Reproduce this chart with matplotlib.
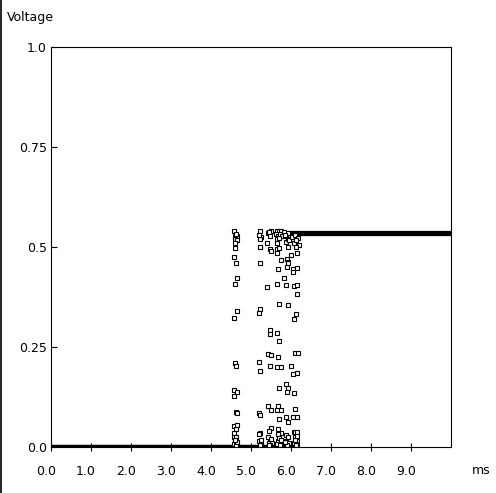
import matplotlib
matplotlib.use("Agg")
import matplotlib.pyplot as plt
import matplotlib.transforms as mtransforms
from matplotlib.lines import Line2D

# ---- data (ms, volts) ----
low_level = 0.0
low_span = [0.0, 6.2]
high_level = 0.535
high_span = [5.95, 10.0]

grpA_t = [4.583, 4.61, 4.65, 4.60, 4.638, 4.608, 4.608, 4.583, 4.633, 4.658, 4.608, 4.658, 4.583,
          4.608, 4.633, 4.583, 4.658, 4.583, 4.625, 4.65, 4.583, 4.658, 4.633, 4.583, 4.583, 4.633,
          4.60, 4.65, 4.575, 4.62, 4.64, 4.59, 4.62]
grpA_v = [0.540, 0.5275, 0.5275, 0.521, 0.5175, 0.511, 0.497, 0.474, 0.459, 0.422, 0.407, 0.339, 0.322,
          0.209, 0.202, 0.1425, 0.138, 0.128, 0.0875, 0.085, 0.053, 0.055, 0.044, 0.034, 0.024, 0.024,
          0.015, 0.01, 0.0075, 0.005, 0.012, 0.018, 0.532]

grpB_t = [5.233, 5.213, 5.25, 5.218, 5.233, 5.213, 5.233, 5.233, 5.208, 5.208, 5.233, 5.208, 5.233,
          5.233, 5.208, 5.20, 5.25, 5.22, 5.24, 5.21]
grpB_v = [0.540, 0.526, 0.525, 0.520, 0.501, 0.501, 0.459, 0.344, 0.334, 0.212, 0.19, 0.084, 0.08,
          0.034, 0.032, 0.015, 0.01, 0.006, 0.018, 0.531]

grpC_t = [5.408, 5.508, 5.425, 5.475, 5.408, 5.483, 5.50, 5.483, 5.483, 5.433, 5.508, 5.483, 5.433,
          5.508, 5.508, 5.458, 5.433, 5.483, 5.45, 5.525, 5.47, 5.44, 5.50, 5.46]
grpC_v = [0.399, 0.540, 0.535, 0.5275, 0.509, 0.494, 0.49, 0.292, 0.282, 0.232, 0.229, 0.202, 0.103,
          0.0925, 0.047, 0.041, 0.025, 0.016, 0.01, 0.01, 0.006, 0.005, 0.02, 0.538]

grpD_t = [5.658, 5.70, 5.75, 5.625, 5.675, 5.725, 5.775, 5.658, 5.658, 5.658, 5.708, 5.758, 5.683,
          5.658, 5.708, 5.658, 5.708, 5.683, 5.658, 5.758, 5.708, 5.683, 5.658, 5.758, 5.708, 5.683,
          5.758, 5.683, 5.675, 5.75, 5.65, 5.72, 5.69, 5.74, 5.64, 5.71]
grpD_v = [0.540, 0.540, 0.540, 0.5325, 0.5275, 0.5325, 0.5275, 0.509, 0.494, 0.484, 0.497, 0.467, 0.444,
          0.407, 0.357, 0.284, 0.264, 0.224, 0.199, 0.199, 0.148, 0.103, 0.0925, 0.0925, 0.07, 0.045,
          0.034, 0.032, 0.015, 0.01, 0.0075, 0.005, 0.022, 0.017, 0.52, 0.523]

grpE_t = [5.833, 5.883, 5.933, 5.908, 5.933, 5.933, 5.908, 5.883, 5.933, 5.883, 5.933, 5.908, 5.883,
          5.933, 5.883, 5.933, 5.875, 5.95, 5.825, 5.875, 5.925, 5.975, 6.008, 6.008, 5.90, 5.85,
          5.92, 5.86, 5.95]
grpE_v = [0.422, 0.512, 0.501, 0.469, 0.463, 0.459, 0.449, 0.404, 0.354, 0.157, 0.148, 0.138, 0.076,
          0.062, 0.03, 0.026, 0.015, 0.01, 0.5375, 0.5275, 0.535, 0.525, 0.48, 0.202, 0.006, 0.012,
          0.52, 0.531, 0.518]

grpF_t = [6.058, 6.058, 6.158, 6.083, 6.208, 6.133, 6.158, 6.083, 6.158, 6.158, 6.133, 6.083, 6.108,
          6.168, 6.158, 6.058, 6.083, 6.108, 6.058, 6.158, 6.068, 6.108, 6.158, 6.108, 6.158, 6.075,
          6.15, 6.025, 6.10, 6.175, 6.125, 6.12, 6.09, 6.14]
grpF_v = [0.444, 0.437, 0.447, 0.509, 0.505, 0.499, 0.484, 0.402, 0.404, 0.382, 0.332, 0.319, 0.234,
          0.234, 0.185, 0.182, 0.134, 0.095, 0.076, 0.074, 0.038, 0.038, 0.038, 0.024, 0.016, 0.01,
          0.0075, 0.525, 0.530, 0.5225, 0.5175, 0.005, 0.018, 0.028]

x_ticks = [0, 1, 2, 3, 4, 5, 6, 7, 8, 9]
x_ticklabels = ["0.0", "1.0", "2.0", "3.0", "4.0", "5.0", "6.0", "7.0", "8.0", "9.0"]
y_ticks = [0.0, 0.25, 0.5, 0.75, 1.0]
y_ticklabels = ["0.0", "0.25", "0.5", "0.75", "1.0"]

# ---- figure ----
W, H = 496, 493
fig = plt.figure(figsize=(W / 100, H / 100), dpi=100)
ax = fig.add_axes([51 / W, (H - 447) / H, 400 / W, 400 / H])
ax.set_xlim(0, 10)
ax.set_ylim(0, 1)

ax.plot(low_span, [low_level, low_level], color="black", lw=3.2, solid_capstyle="butt", zorder=2)
ax.plot(high_span, [high_level, high_level], color="black", lw=3.8, solid_capstyle="butt", zorder=2)

for tt, vv in [(grpA_t, grpA_v), (grpB_t, grpB_v), (grpC_t, grpC_v),
               (grpD_t, grpD_v), (grpE_t, grpE_v), (grpF_t, grpF_v)]:
    ax.plot(tt, vv, linestyle="none", marker="s", ms=2.6, mew=0.8,
            mfc="white", mec="black", zorder=3)

ax.set_xticks(x_ticks)
ax.set_xticklabels(x_ticklabels)
ax.set_yticks(y_ticks)
ax.set_yticklabels(y_ticklabels)
ax.tick_params(axis="x", direction="inout", length=6, width=0.8, pad=10, labelsize=9)
ax.tick_params(axis="y", direction="in", length=4, width=0.8, pad=3, labelsize=9)
for sp in ax.spines.values():
    sp.set_linewidth(0.8)

offset = mtransforms.ScaledTranslation(-5 / 100, 0, fig.dpi_scale_trans)
for lab in ax.get_xticklabels():
    lab.set_transform(lab.get_transform() + offset)

fig.text(7 / W, 1 - 17 / H, "Voltage", ha="left", va="center", fontsize=9)
fig.text(481 / W, 1 - 471 / H, "ms", ha="center", va="center", fontsize=9)

fig.add_artist(Line2D([0.5 / W, 0.5 / W], [0, 1], transform=fig.transFigure,
                      color="black", lw=1.2))

fig.savefig("out.png", dpi=100)
